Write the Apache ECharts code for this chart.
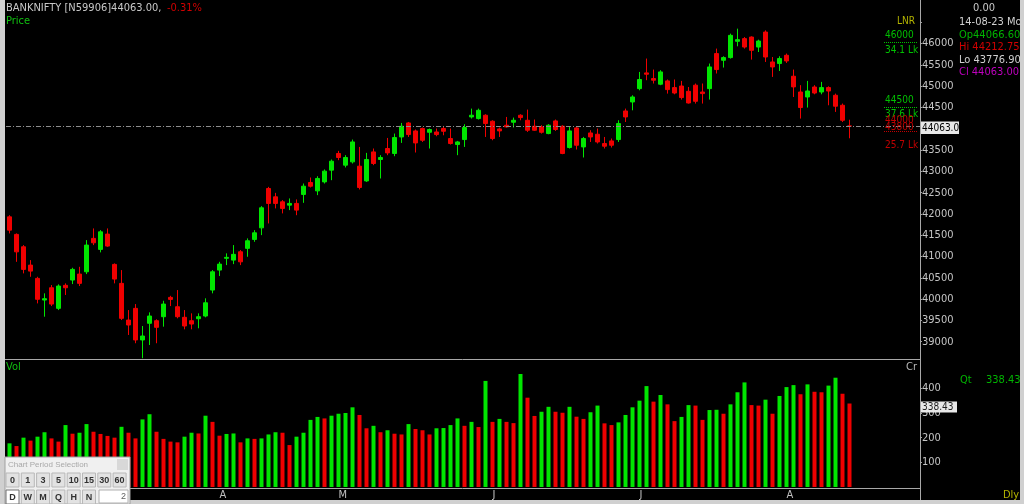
<!DOCTYPE html>
<html><head><meta charset="utf-8">
<script src="https://cdn.jsdelivr.net/npm/echarts@6/dist/echarts.min.js"></script>
<style>html,body{margin:0;padding:0;background:#000;}#c{width:1024px;height:504px;}</style>
</head><body><div id="c"></div>
<script>
// ---------------- DATA ----------------
const dates = [
'16-02-23','17-02-23','20-02-23','21-02-23','22-02-23','23-02-23','24-02-23','27-02-23','28-02-23',
'01-03-23','02-03-23','03-03-23','06-03-23','08-03-23','09-03-23','10-03-23','13-03-23','14-03-23','15-03-23','16-03-23','17-03-23','20-03-23','21-03-23','22-03-23','23-03-23','24-03-23','27-03-23','28-03-23','29-03-23','31-03-23',
'03-04-23','05-04-23','06-04-23','10-04-23','11-04-23','12-04-23','13-04-23','17-04-23','18-04-23','19-04-23','20-04-23','21-04-23','24-04-23','25-04-23','26-04-23','27-04-23','28-04-23',
'02-05-23','03-05-23','04-05-23','05-05-23','08-05-23','09-05-23','10-05-23','11-05-23','12-05-23','15-05-23','16-05-23','17-05-23','18-05-23','19-05-23','22-05-23','23-05-23','24-05-23','25-05-23','26-05-23','29-05-23','30-05-23','31-05-23',
'01-06-23','02-06-23','05-06-23','06-06-23','07-06-23','08-06-23','09-06-23','12-06-23','13-06-23','14-06-23','15-06-23','16-06-23','19-06-23','20-06-23','21-06-23','22-06-23','23-06-23','26-06-23','27-06-23','28-06-23','30-06-23',
'03-07-23','04-07-23','05-07-23','06-07-23','07-07-23','10-07-23','11-07-23','12-07-23','13-07-23','14-07-23','17-07-23','18-07-23','19-07-23','20-07-23','21-07-23','24-07-23','25-07-23','26-07-23','27-07-23','28-07-23','31-07-23',
'01-08-23','02-08-23','03-08-23','04-08-23','07-08-23','08-08-23','09-08-23','10-08-23','11-08-23','14-08-23'
];
const opens = [
41932,41520,41229,40799,40487,39979,40267,39783,40324,40448,
40588,40642,41426,41168,41527,40815,40370,39509,39783,39041,
39432,39493,39587,40041,39821,39573,39493,39540,39603,40213,
40682,40958,40916,41112,41192,41402,41674,42598,42402,42285,
42207,42247,42458,42739,42542,42753,43029,43420,43146,43223,
43122,42776,43457,43279,43537,43420,43808,44137,43949,44006,
43918,43925,44006,43771,43630,43747,44278,44240,44318,44177,
43997,44083,44154,44318,44200,44060,44044,43888,44184,44060,
43560,44020,43574,43902,43872,43654,43715,43747,44418,44630,
44943,45312,45180,45047,45124,44967,45004,44880,45024,44864,
44943,45766,45609,45672,46054,46117,46154,45920,46271,45569,
45532,45726,45234,44864,44747,44981,44864,44967,44787,44552,
44066.60];
const closes = [
41620,41110,40698,40658,39996,40010,39884,40307,40267,40698,
40370,41269,41323,41580,41246,40471,39549,39392,39041,39134,
39603,39338,39884,39994,39587,39369,39415,39587,39914,40642,
40822,40981,41051,40876,41370,41557,42144,42247,42247,42130,
42247,42090,42652,42652,42833,43005,43239,43326,43326,43691,
42622,43279,43185,43326,43434,43794,44060,43864,43668,43731,
43983,43864,43942,43654,43691,44029,44318,44434,44123,43771,
43950,44044,44200,44263,43966,43966,43918,44083,43983,43420,
43950,43614,43771,43808,43691,43591,43614,44123,44278,44747,
45157,45281,45141,45335,44920,44840,44733,44606,44646,44826,
45452,45391,45672,46194,46093,45920,45843,46061,45686,45452,
45649,45593,44984,44499,44887,44840,44967,44887,44530,44200,
44063.00];
const highs = [
41971,41543,41269,40916,40525,40136,40331,40347,40370,40736,
40759,41386,41660,41620,41660,40839,40682,39743,39884,39369,
39689,39526,39961,40078,40213,39743,39666,39666,40019,40682,
40876,41075,41269,41152,41426,41620,42184,42636,42495,42325,
42364,42341,42715,42856,42886,43045,43279,43481,43380,43747,
43574,43434,43537,43380,43785,43888,44137,44160,43983,44029,
44006,44006,44067,44006,43715,44107,44474,44474,44341,44200,
44029,44278,44263,44341,44451,44217,44083,44107,44217,44083,
44044,44044,43808,43966,44006,43808,43771,44200,44474,44787,
45335,45649,45391,45375,45157,45157,45124,44981,45063,45063,
45532,45883,45703,46234,46351,46154,46171,46093,46311,45686,
45703,45766,45391,45024,45124,45024,45101,44997,44826,44592,
44212.75];
const lows = [
41543,40876,40604,40525,39900,39587,39837,39743,40097,40354,
40307,40588,41269,41098,41229,40370,39509,39158,38964,38612,
38923,38964,39353,39837,39549,39291,39291,39315,39573,40136,
40542,40799,40822,40799,40995,41346,41503,41777,42130,42013,
42090,41971,42261,42622,42442,42715,42793,43263,43092,43185,
42575,42753,43146,42833,43380,43356,43668,43808,43443,43691,
43537,43825,43848,43630,43380,43574,44240,44217,43808,43731,
43808,44029,44029,44200,43926,43950,43888,43872,43950,43403,
43537,43513,43326,43691,43654,43537,43560,43691,44160,44434,
44904,45141,45063,45024,44826,44810,44686,44592,44592,44592,
44686,45298,45438,45649,45937,45883,45625,45803,45569,45218,
45358,45546,44747,44240,44499,44810,44810,44552,44396,44160,
43776.90];
const volumes = [
177,166,200,188,204,222,197,184,251,216,
220,255,224,215,207,200,244,220,197,274,
295,224,195,184,181,204,220,217,289,264,
208,215,217,181,197,195,197,213,222,220,
170,204,220,272,284,278,289,297,300,323,
292,238,248,222,230,216,213,255,235,230,
213,238,239,251,278,248,264,243,430,264,
276,264,259,458,362,288,305,325,305,301,
325,285,276,303,330,258,251,262,292,323,
350,409,346,373,335,267,284,332,330,272,
312,313,297,335,384,424,332,330,354,297,
369,405,413,376,416,386,384,411,443,378,
338.43];
const monthLetters = ['J','F','M','A','M','J','J','A','S','O','N','D'];
const padSlots = 10;
const priceLabelMax = 46000;
const symbolName = 'BANKNIFTY';
const symbolCode = '[N59906]';
const changePct = '-0.31%';
const lnrLabels = [
  {t:'46000', c:'g', y:35.5}, {t:'34.1 Lk', c:'g', y:50},
  {t:'44500', c:'g', y:100.5}, {t:'37.6 Lk', c:'g', y:114},
  {t:'44000', c:'r', y:120.5}, {t:'43800', c:'r', y:127.5}, {t:'25.7 Lk', c:'r', y:145}
];
const lnrLines = [{y:42.5, c:'g'}, {y:107.5, c:'g'}, {y:131.5, c:'r'}];
const periodRow1 = ['0','1','3','5','10','15','30','60'];
const periodRow2 = ['D','W','M','Q','H','N'];

// ---------------- CHART ----------------
const FONT = '"DejaVu Sans Condensed","DejaVu Sans",sans-serif';
const UP = '#00e600', DOWN = '#f00000';
const GREEN_T = '#10c010', RED_T = '#d00000';
const chart = echarts.init(document.getElementById('c'), null, {renderer:'canvas'});
const last = closes.length - 1;
const candleData = opens.map((o,i)=>[o, closes[i], lows[i], highs[i]]);
const baseLabel = {color:'#c4c4c4', fontFamily:FONT, fontSize:11, margin:2, padding:[5,0,0,0], showMinLabel:false, showMaxLabel:false};

chart.setOption({
  backgroundColor:'#000',
  animation:false,
  grid:[{left:6, width:917, top:1.03, height:361.97},
        {left:6, width:917, top:363.65, height:123.35}],
  xAxis:[
    {type:'category', gridIndex:0, data:dates, max:dates.length-1+padSlots, show:false},
    {type:'category', gridIndex:1, data:dates, max:dates.length-1+padSlots,
     axisLine:{show:false}, axisTick:{show:false}, splitLine:{show:false},
     axisLabel:{
       interval:(idx)=> idx>0 && idx<dates.length && dates[idx].slice(3,5)!==dates[idx-1].slice(3,5),
       formatter:(v)=> v ? monthLetters[parseInt(v.slice(3,5),10)-1] : '',
       color:'#c0c0c0', fontFamily:FONT, fontSize:11, margin:3, align:'left'}}
  ],
  yAxis:[
    {type:'value', gridIndex:0, position:'right', offset:-3, min:38500, max:47000, interval:500,
     splitLine:{show:false}, axisLine:{show:false},
     axisTick:{show:true, length:2, lineStyle:{color:'#a0a0a0'}},
     axisLabel:Object.assign({}, baseLabel, {formatter:(v)=> v>priceLabelMax ? '' : String(v)})},
    {type:'value', gridIndex:1, position:'right', offset:-3, min:0, max:500, interval:100,
     splitLine:{show:false}, axisLine:{show:false},
     axisTick:{show:true, length:2, lineStyle:{color:'#a0a0a0'}},
     axisLabel:Object.assign({}, baseLabel, {formatter:(v)=> String(v)})}
  ],
  series:[
    {type:'candlestick', xAxisIndex:0, yAxisIndex:0, data:candleData, barWidth:5,
     itemStyle:{color:UP, color0:DOWN, borderColor:UP, borderColor0:DOWN, borderWidth:1},
     markLine:{silent:true, symbol:['none','none'], label:{show:false},
       lineStyle:{color:'#8c8c8c', width:1, type:[5,2,1,2]},
       data:[{yAxis:closes[last]}]}},
    {type:'bar', xAxisIndex:1, yAxisIndex:1, data:volumes, barWidth:4,
     itemStyle:{color:(p)=> (p.dataIndex===0 || volumes[p.dataIndex]>=volumes[p.dataIndex-1]) ? UP : DOWN}}
  ]
});

const pyPrice = chart.convertToPixel({yAxisIndex:0}, closes[last]);
const pyVol = chart.convertToPixel({yAxisIndex:1}, volumes[last]);

function txt(x, y, t, fill, size, extra){
  return Object.assign({type:'text', x:x, y:y, z:100, silent:true,
    style:{text:t, fill:fill, font:(size||11)+'px '+FONT, verticalAlign:'middle', align:'left'}}, extra||{});
}
function line(x1,y1,x2,y2,stroke,dash){
  return {type:'line', z:100, silent:true, shape:{x1:x1,y1:y1,x2:x2,y2:y2}, style:{stroke:stroke, lineWidth:1, lineDash:dash||null}};
}
function rect(x,y,w,h,fill,stroke,z){
  return {type:'rect', z:z||100, silent:true, shape:{x:x,y:y,width:w,height:h}, style:{fill:fill, stroke:stroke||null, lineWidth:1}};
}

const g = [];
g.push(line(920.5,0,920.5,504,'#a8a8a8'));
g.push(line(5,359.5,920,359.5,'#a8a8a8'));
g.push(line(5,488.5,920,488.5,'#a8a8a8'));
g.push(txt(6,8.5, symbolName+' '+symbolCode+closes[last].toFixed(2)+',', '#c8c8c8', 11));
g.push(txt(167,8.5, changePct, RED_T, 11));
g.push(txt(6,21.5,'Price',GREEN_T,11));
g.push(txt(6,367.5,'Vol',GREEN_T,11));
g.push(txt(906,367.5,'Cr','#b8b8b8',11));
g.push(txt(897,21.5,'LNR','#b4b400',10));
lnrLines.forEach(l=>g.push(line(884,l.y,918,l.y, l.c==='g'?'#00c000':'#c00000',[1,1])));
lnrLabels.forEach(l=>g.push(txt(885,l.y,l.t, l.c==='g'?'#00c000':'#c00000',10)));
g.push(txt(973,8.5,'0.00','#c8c8c8',11));
g.push(txt(959,22.5,'14-08-23 Mon','#d0d0d0',11));
g.push(txt(959,35,'Op'+opens[last].toFixed(2),'#00b400',11));
g.push(txt(959,47.5,'Hi '+highs[last].toFixed(2),RED_T,11));
g.push(txt(959,60,'Lo '+lows[last].toFixed(2),'#d0d0d0',11));
g.push(txt(959,72,'Cl '+closes[last].toFixed(2),'#c000c0',11));
g.push(txt(960,380,'Qt','#00b400',11));
g.push(txt(986,380,volumes[last].toFixed(2),'#00b400',11));
g.push(txt(1003,495,'Dly','#b4b400',11));
g.push(rect(921,pyPrice-4.5,38,12.5,'#e8e8e8',null,101));
g.push(Object.assign(txt(922,pyPrice+2,closes[last].toFixed(2).slice(0,7),'#000',10),{z:102}));
g.push(rect(921,pyVol-2,36,11,'#e8e8e8',null,101));
g.push(Object.assign(txt(922,pyVol+3.5,volumes[last].toFixed(2),'#202020',10),{z:102}));
g.push(rect(0,0,5,504,'#d0d0d0',null,110));
g.push(rect(1020,0,4,504,'#d0d0d0',null,110));
g.push(rect(0,500,1024,4,'#d0d0d0',null,110));
const PF = '"Liberation Sans",Arial,sans-serif';
g.push(rect(5,457,125,47,'#f0f0f0','#a0a0a0',120));
g.push({type:'text', x:8, y:465, z:121, silent:true, style:{text:'Chart Period Selection', fill:'#a8a8a8', font:'8px '+PF, verticalAlign:'middle'}});
g.push(rect(117,459,11,11,'#d8d8d8',null,121));
periodRow1.forEach((t,k)=>{
  const x = 6 + k*15.3;
  g.push(rect(x,473,13,14,'#e2e2e2','#b8b8b8',121));
  g.push({type:'text', x:x+6.5, y:480.5, z:122, silent:true, style:{text:t, fill:'#303030', font:'bold 9px '+PF, align:'center', verticalAlign:'middle'}});
});
periodRow2.forEach((t,k)=>{
  const x = 6 + k*15.3;
  g.push(rect(x,490,13,14,k===0?'#ffffff':'#e2e2e2',k===0?'#707070':'#b8b8b8',121));
  g.push({type:'text', x:x+6.5, y:497.5, z:122, silent:true, style:{text:t, fill:'#303030', font:'bold 9px '+PF, align:'center', verticalAlign:'middle'}});
});
g.push(rect(99,490,29,13,'#ffffff','#b0b0b0',121));
g.push({type:'text', x:126, y:496.5, z:122, silent:true, style:{text:'2', fill:'#606060', font:'9px '+PF, align:'right', verticalAlign:'middle'}});

chart.setOption({graphic:g});
</script>
</body></html>
